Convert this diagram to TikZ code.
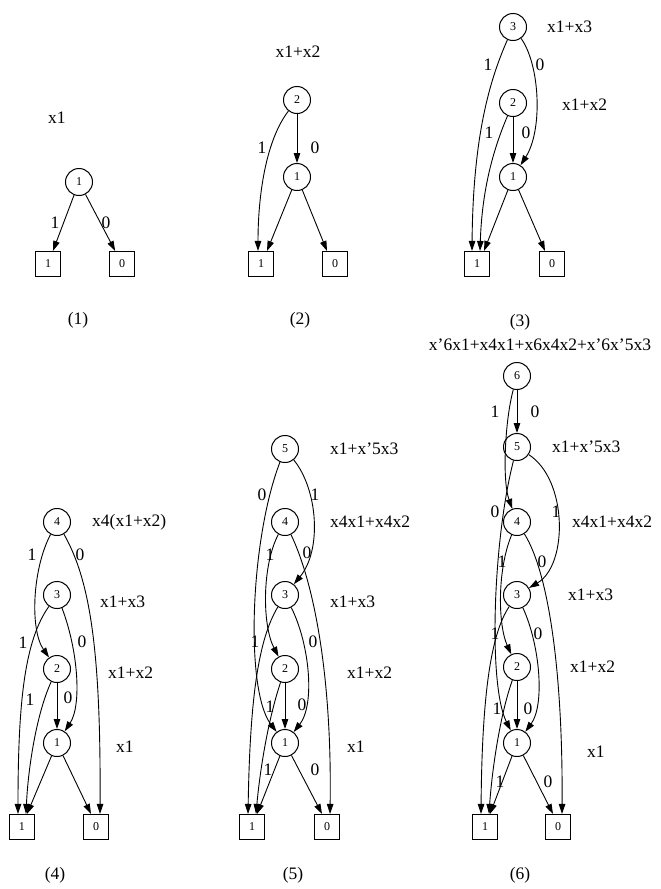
\documentclass[tikz,border=0pt]{standalone}
\usepackage{fontspec}
\setmainfont{Liberation Serif}
\usetikzlibrary{arrows.meta}
\tikzset{
  nd/.style={circle, draw, line width=1pt, minimum size=27pt, inner sep=0pt, font=\fontsize{12}{12}\selectfont},
  tm/.style={rectangle, draw, line width=1.1pt, minimum width=25pt, minimum height=25pt, inner sep=0pt, font=\fontsize{12}{12}\selectfont},
  ar/.style={line width=0.9pt, -{Triangle[length=10pt,width=6.5pt]}},
  lb/.style={font=\fontsize{17.5}{17.5}\selectfont, inner sep=0pt},
  ann/.style={font=\fontsize{17.5}{17.5}\selectfont, inner sep=0pt, anchor=west},
}
\begin{document}
\begin{tikzpicture}[x=1pt, y=-1pt]
\useasboundingbox (0,0) rectangle (661,889);
% ---------- panel 1 ----------
\node[ann] (p1a1) at (48,118) {x1};
\node[nd] (p1n1) at (79,182) {1};
\node[tm] (p1t1) at (48,264) {1};
\node[tm] (p1t0) at (122,264) {0};
\draw[ar] (p1n1) -- (p1t1);
\draw[ar] (p1n1) -- (p1t0);
\node[lb] (p1l1) at (55,223) {1};
\node[lb] (p1l0) at (106,223) {0};
\node[lb] (p1c) at (78,320) {(1)};
% ---------- panel 2 ----------
\node[lb] (p2a2) at (298,52) {x1+x2};
\node[nd] (p2n2) at (297,100) {2};
\node[nd] (p2n1) at (297,177) {1};
\node[tm] (p2t1) at (261,264) {1};
\node[tm] (p2t0) at (335,264) {0};
\draw[ar] (p2n2) .. controls (266,140) and (258,195) .. ([xshift=-3pt]p2t1.north);
\draw[ar] (p2n2) -- (p2n1);
\draw[ar] (p2n1) -- ([xshift=6pt]p2t1.north);
\draw[ar] (p2n1) -- ([xshift=-8pt]p2t0.north);
\node[lb] (p2l1) at (262,148) {1};
\node[lb] (p2l0) at (315,148) {0};
\node[lb] (p2c) at (300,320) {(2)};
% ---------- panel 3 ----------
\node[nd] (p3n3) at (513,27) {3};
\node[nd] (p3n2) at (513,103) {2};
\node[nd] (p3n1) at (513,177) {1};
\node[ann] (p3a3) at (547,27) {x1+x3};
\node[ann] (p3a2) at (562,105) {x1+x2};
\node[tm] (p3t1) at (477,264) {1};
\node[tm] (p3t0) at (552,264) {0};
\draw[ar] (p3n3) .. controls (492,75) and (473,130) .. ([xshift=-5pt]p3t1.north);
\draw[ar] (p3n3) .. controls (540,65) and (543,130) .. (p3n1);
\draw[ar] (p3n2) .. controls (493,150) and (482,190) .. ([xshift=3pt]p3t1.north);
\draw[ar] (p3n2) -- (p3n1);
\draw[ar] (p3n1) -- ([xshift=7pt]p3t1.north);
\draw[ar] (p3n1) -- ([xshift=-7pt]p3t0.north);
\node[lb] (p3l31) at (488,65) {1};
\node[lb] (p3l30) at (540,65) {0};
\node[lb] (p3l21) at (489,133) {1};
\node[lb] (p3l20) at (526,133) {0};
\node[lb] (p3c) at (520,322) {(3)};
% ---------- panel 4 ----------
\node[nd] (p4n4) at (57,522) {4};
\node[nd] (p4n3) at (57,595) {3};
\node[nd] (p4n2) at (57,669) {2};
\node[nd] (p4n1) at (57,743) {1};
\node[ann] (p4a4) at (92,522) {x4(x1+x2)};
\node[ann] (p4a3) at (100,602) {x1+x3};
\node[ann] (p4a2) at (108,673) {x1+x2};
\node[ann] (p4a1) at (116,747) {x1};
\node[tm] (p4t1) at (22,827) {1};
\node[tm] (p4t0) at (96,827) {0};
\draw[ar] (p4n4) .. controls (32,570) and (30,630) .. (p4n2);
\draw[ar] (p4n4) .. controls (90,580) and (101,650) .. ([xshift=4pt]p4t0.north);
\draw[ar] (p4n3) .. controls (25,640) and (18,700) .. ([xshift=-4pt]p4t1.north);
\draw[ar] (p4n3) .. controls (78,650) and (82,705) .. (p4n1);
\draw[ar] (p4n2) .. controls (36,715) and (28,770) .. ([xshift=4pt]p4t1.north);
\draw[ar] (p4n2) -- (p4n1);
\draw[ar] (p4n1) -- ([xshift=5pt]p4t1.north);
\draw[ar] (p4n1) -- ([xshift=-5pt]p4t0.north);
\node[lb] (p4l41) at (32,555) {1};
\node[lb] (p4l40) at (80,555) {0};
\node[lb] (p4l31) at (23,643) {1};
\node[lb] (p4l30) at (82,642) {0};
\node[lb] (p4l21) at (30,700) {1};
\node[lb] (p4l20) at (68,698) {0};
\node[lb] (p4c) at (55,875) {(4)};
% ---------- panel 5 ----------
\node[nd] (p5n5) at (285,449) {5};
\node[nd] (p5n4) at (285,522) {4};
\node[nd] (p5n3) at (285,595) {3};
\node[nd] (p5n2) at (285,669) {2};
\node[nd] (p5n1) at (285,743) {1};
\node[ann] (p5a5) at (330,449) {x1+x'5x3};
\node[ann] (p5a4) at (330,522) {x4x1+x4x2};
\node[ann] (p5a3) at (330,602) {x1+x3};
\node[ann] (p5a2) at (347,673) {x1+x2};
\node[ann] (p5a1) at (347,747) {x1};
\node[tm] (p5t1) at (252,827) {1};
\node[tm] (p5t0) at (327,827) {0};
\draw[ar] (p5n5) .. controls (250,540) and (245,690) .. (p5n1);
\draw[ar] (p5n5) .. controls (318,490) and (322,550) .. (p5n3);
\draw[ar] (p5n4) .. controls (262,565) and (262,625) .. (p5n2);
\draw[ar] (p5n4) .. controls (315,585) and (332,680) .. ([xshift=3pt]p5t0.north);
\draw[ar] (p5n3) .. controls (258,640) and (250,700) .. ([xshift=-4pt]p5t1.north);
\draw[ar] (p5n3) .. controls (310,645) and (315,705) .. (p5n1);
\draw[ar] (p5n2) .. controls (268,720) and (260,770) .. ([xshift=4pt]p5t1.north);
\draw[ar] (p5n2) -- (p5n1);
\draw[ar] (p5n1) -- ([xshift=5pt]p5t1.north);
\draw[ar] (p5n1) -- ([xshift=-5pt]p5t0.north);
\node[lb] (p5l50) at (262,495) {0};
\node[lb] (p5l51) at (315,495) {1};
\node[lb] (p5l41) at (270,555) {1};
\node[lb] (p5l40) at (307,553) {0};
\node[lb] (p5l31) at (255,642) {1};
\node[lb] (p5l30) at (313,642) {0};
\node[lb] (p5l21) at (270,707) {1};
\node[lb] (p5l20) at (302,705) {0};
\node[lb] (p5l11) at (268,770) {1};
\node[lb] (p5l10) at (315,770) {0};
\node[lb] (p5c) at (293,875) {(5)};
% ---------- panel 6 ----------
\node[lb] (p6a6) at (540,345) {x'6x1+x4x1+x6x4x2+x'6x'5x3};
\node[nd] (p6n6) at (517,376) {6};
\node[nd] (p6n5) at (517,447) {5};
\node[nd] (p6n4) at (517,522) {4};
\node[nd] (p6n3) at (517,595) {3};
\node[nd] (p6n2) at (517,667) {2};
\node[nd] (p6n1) at (517,743) {1};
\node[ann] (p6a5) at (552,447) {x1+x'5x3};
\node[ann] (p6a4) at (572,522) {x4x1+x4x2};
\node[ann] (p6a3) at (568,595) {x1+x3};
\node[ann] (p6a2) at (570,667) {x1+x2};
\node[ann] (p6a1) at (587,752) {x1};
\node[tm] (p6t1) at (485,827) {1};
\node[tm] (p6t0) at (558,827) {0};
\draw[ar] (p6n6) -- (p6n5);
\draw[ar] (p6n6) .. controls (505,420) and (502,480) .. (p6n4);
\draw[ar] (p6n5) .. controls (493,540) and (488,685) .. (p6n1);
\draw[ar] (p6n5) .. controls (568,480) and (568,565) .. (p6n3);
\draw[ar] (p6n4) .. controls (497,570) and (498,625) .. (p6n2);
\draw[ar] (p6n4) .. controls (550,575) and (563,680) .. ([xshift=4pt]p6t0.north);
\draw[ar] (p6n3) .. controls (490,635) and (482,700) .. ([xshift=-4pt]p6t1.north);
\draw[ar] (p6n3) .. controls (540,645) and (545,705) .. (p6n1);
\draw[ar] (p6n2) .. controls (500,715) and (492,770) .. ([xshift=4pt]p6t1.north);
\draw[ar] (p6n2) -- (p6n1);
\draw[ar] (p6n1) -- ([xshift=5pt]p6t1.north);
\draw[ar] (p6n1) -- ([xshift=-5pt]p6t0.north);
\node[lb] (p6l61) at (495,412) {1};
\node[lb] (p6l60) at (535,412) {0};
\node[lb] (p6l50) at (495,512) {0};
\node[lb] (p6l51) at (556,512) {1};
\node[lb] (p6l41) at (502,562) {1};
\node[lb] (p6l40) at (542,562) {0};
\node[lb] (p6l31) at (495,634) {1};
\node[lb] (p6l30) at (538,634) {0};
\node[lb] (p6l21) at (497,709) {1};
\node[lb] (p6l20) at (528,709) {0};
\node[lb] (p6l11) at (500,782) {1};
\node[lb] (p6l10) at (548,782) {0};
\node[lb] (p6c) at (520,875) {(6)};
\end{tikzpicture}
\end{document}
